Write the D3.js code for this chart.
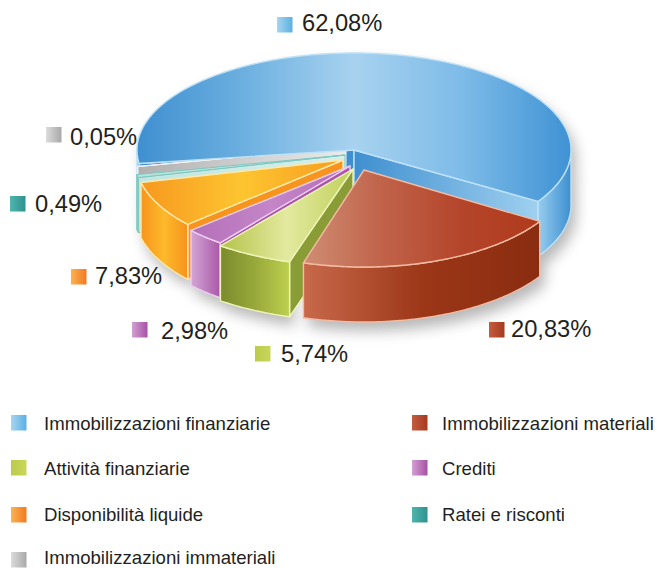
<!DOCTYPE html>
<html><head><meta charset="utf-8">
<script src="https://cdn.jsdelivr.net/npm/d3@7"></script>
<style>html,body{margin:0;padding:0;background:#fff}svg{display:block}text{font-family:"Liberation Sans",Arial,sans-serif;fill:#231f20}</style>
</head><body><svg id="c" width="657" height="568"></svg>
<script>
// Data
const categories = ["Immobilizzazioni finanziarie","Immobilizzazioni materiali","Attività finanziarie","Crediti","Disponibilità liquide","Ratei e risconti","Immobilizzazioni immateriali"];
const values = [62.08,20.83,5.74,2.98,7.83,0.49,0.05];
const valueLabels = ["62,08%","20,83%","5,74%","2,98%","7,83%","0,49%","0,05%"];
// Colours
const topStops = [
 ["#3f8fd0","#6db0e0","#a8d2ef","#7dbbe8","#3f92d4"],
 ["#cf8d72","#c0634a","#b4452a","#b03a1c"],
 ["#b4c34a","#e3e99f","#c0d05c"],
 ["#b46fb8","#c486c8","#b46cb5"],
 ["#f7981f","#fdc530","#f79c20"],
 ["#b9e2dc","#c9e9e4"],
 ["#a8a8a8","#cfcfcf","#ececec"]];
const sideStops = [
 ["#97cdf0","#3d8fd0"],
 ["#c8694b","#9c3718","#8a2c10"],
 ["#7b8b2e","#98a93a","#bdd04e"],
 ["#d4a6d6","#aa58a8"],
 ["#f7951d","#fdb92b","#f6931c"],
 ["#bfe6e0","#5db8ae"],
 ["#cfcfcf","#e8e8e8"]];
const wallStops = [
 ["#3f8fd0","#9fd0ef"],
 ["#8a2c10","#8a2c10"],
 ["#8a9c36","#8a9c36"],
 ["#ab55ad","#ab55ad"],
 ["#f7941e","#f7941e"],
 ["#bfe6e0","#d6efeb"],
 ["#b0b0b0","#ebebeb"]];
const strokeColors = ["#bde2f7","#f3bba3","#eef3b8","#eccdee","#fde8aa","#7cc8bf","#f2f2f2"];
const swatchStops = [
 ["#a6d5f1","#5cb0e4"],["#c45c40","#a63a1f"],["#bccb4c","#c8d65a"],["#d3a0d3","#a650a5"],
 ["#fbb254","#f37a20"],["#4fb5ad","#2f9190"],["#dcdcdc","#a8a8a8"]];
// Layout
const cx=354, cy=150, rx=217, ry=97, depth=55;
const startDeg=32, blueGapDeg=3.5;
const explode=[[0,0],[10,20],[-1,19],[-4,16],[-11,10],[-9,5],[-8,-3]];
const radiusX=[1,.955,1,.98,.957,.98,.98];
const drawOrder=[0,6,5,4,3,2,1];
const labelPos=[[277,17,302,31],[489,322,511,337],[255,346,281,362],[132,322,161,339],[71,269,95,284],[10,196,35,212],[46,127,70,145]];
const legendPos=[[11,415,44,430],[412,415,442,430],[11,460,44,475],[412,460,442,475],[11,507,44,521],[412,507,442,521],[11,552,44,564]];
const swatch=15.5, labelFont=23.7, legendFont=18.6;

const svg=d3.select("#c"), defs=svg.append("defs");
const y=d3.scaleLinear().domain([-1,1]).range([cy-ry,cy+ry]);
const xFor=i=>d3.scaleLinear().domain([-1,1]).range([cx-rx*radiusX[i],cx+rx*radiusX[i]]);
const line=d3.line();
const rad=d=>d*Math.PI/180;
const pie=d3.pie().sort(null).value(d=>d).startAngle(rad(startDeg)).endAngle(rad(startDeg+360));
// pie runs red first so that it ends on blue, which closes the circle at the start angle
const order=[1,2,3,4,5,6,0];
const arcs=pie(order.map(i=>values[i]));
const slices=[]; order.forEach((i,k)=>{slices[i]={a:arcs[k].startAngle,b:arcs[k].endAngle,x:xFor(i)}});
slices[0].a+=rad(blueGapDeg);

function grad(id,stops){
  const g=defs.append("linearGradient").attr("id",id);
  stops.forEach((c,i)=>g.append("stop").attr("offset",stops.length>1?i/(stops.length-1):0).attr("stop-color",c));
  return `url(#${id})`;
}
function arcPts(s,a,b,dx,dy,dz){
  const n=Math.max(2,Math.ceil(Math.abs(b-a)/rad(1)));
  return d3.range(n+1).map(j=>{const t=a+(b-a)*j/n;return [s.x(Math.cos(t))+dx,y(Math.sin(t))+dy+dz]});
}
function topPath(s,dx,dy){return line([[cx+dx,cy+dy],...arcPts(s,s.a,s.b,dx,dy,0)])+"Z";}
function wallPath(s,t,dx,dy){
  const p=[s.x(Math.cos(t))+dx,y(Math.sin(t))+dy];
  return line([[cx+dx,cy+dy],p,[p[0],p[1]+depth],[cx+dx,cy+dy+depth]])+"Z";
}
function sideRanges(s){
  const out=[];
  for(const [l,h] of [[0,Math.PI],[2*Math.PI,3*Math.PI]]){
    const a=Math.max(s.a,l), b=Math.min(s.b,h);
    if(b>a) out.push([a,b]);
  }
  return out;
}
function sidePath(s,a,b,dx,dy){return line([...arcPts(s,a,b,dx,dy,0),...arcPts(s,b,a,dx,dy,depth)])+"Z";}

// Soft shadow
defs.append("filter").attr("id","blur").attr("x","-20%").attr("y","-20%").attr("width","140%").attr("height","140%")
  .append("feGaussianBlur").attr("stdDeviation",7);
const sh=svg.append("g").attr("filter","url(#blur)").attr("opacity",.42).attr("transform","translate(5,9)");
drawOrder.forEach(i=>{
  const s=slices[i],[dx,dy]=explode[i];
  sideRanges(s).forEach(([a,b])=>sh.append("path").attr("d",sidePath(s,a,b,dx,dy)).attr("fill","#555"));
  sh.append("path").attr("d",topPath(s,dx,dy)).attr("fill","#555");
});

// Slices, back to front; the first slice's top goes over the sliver behind its edge
const pieG=svg.append("g").attr("stroke-linejoin","round");
drawOrder.forEach((i,k)=>{
  const s=slices[i],[dx,dy]=explode[i],g=pieG.append("g").attr("stroke",strokeColors[i]).attr("stroke-width",i>=5?1:1.4);
  const wallFill=grad("w"+i,wallStops[i]), sideFill=grad("s"+i,sideStops[i]), topFill=grad("t"+i,topStops[i]);
  if(Math.cos(s.a)<0) g.append("path").attr("d",wallPath(s,s.a,dx,dy)).attr("fill",i===0?"#3f8fd0":wallFill);
  if(Math.cos(s.b)>0) g.append("path").attr("d",wallPath(s,s.b,dx,dy)).attr("fill",wallFill);
  sideRanges(s).forEach(([a,b])=>g.append("path").attr("d",sidePath(s,a,b,dx,dy)).attr("fill",sideFill));
  if(k>0) g.append("path").attr("d",topPath(s,dx,dy)).attr("fill",topFill);
  if(k===1){
    const b=slices[0];
    pieG.append("path").attr("d",topPath(b,0,0)).attr("fill","url(#t0)").attr("stroke",strokeColors[0]).attr("stroke-width",1.4);
  }
});

// Labels beside the pie
values.forEach((v,i)=>{
  const [sx,sy,tx,ty]=labelPos[i], f=grad("sw"+i,swatchStops[i]);
  svg.append("rect").attr("x",sx).attr("y",sy).attr("width",swatch).attr("height",swatch).attr("fill",f);
  svg.append("text").attr("x",tx).attr("y",ty).attr("font-size",labelFont).text(valueLabels[i]);
});
// Legend
categories.forEach((c,i)=>{
  const [sx,sy,tx,ty]=legendPos[i];
  svg.append("rect").attr("x",sx).attr("y",sy).attr("width",swatch).attr("height",swatch).attr("fill",`url(#sw${i})`);
  svg.append("text").attr("x",tx).attr("y",ty).attr("font-size",legendFont).text(c);
});
</script></body></html>
